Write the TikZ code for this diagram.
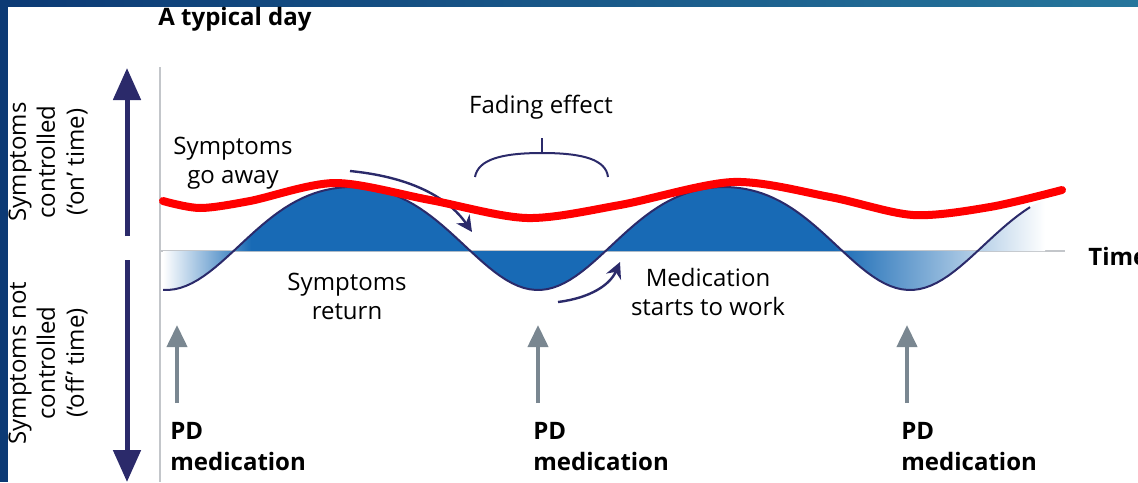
\documentclass[tikz,border=0pt]{standalone}
\usepackage{fontspec}
\setmainfont{Open Sans}
\usetikzlibrary{arrows.meta}
\definecolor{framenavy}{RGB}{12,58,117}
\definecolor{frameteal}{RGB}{38,118,156}
\definecolor{arrownavy}{RGB}{43,42,106}
\definecolor{waveblue}{RGB}{24,106,181}
\definecolor{dosegray}{RGB}{122,135,145}
\definecolor{axisgray}{RGB}{195,198,202}
% blue between the wave and the time line, faded out at both ends
\pgfdeclarehorizontalshading{wavefill}{100bp}{color(0bp)=(white); color(25bp)=(white);
  color(30bp)=(waveblue); color(63bp)=(waveblue); color(75bp)=(white); color(100bp)=(white)}
% one day cycle is 372 units long (360/372 = 0.9677), with narrower dips
\newcommand\wavey[1]{233.1-51.5*cos(0.9677*(#1-352))+5.4*cos(1.9355*(#1-352))}
\newcommand\pddose[3]
{
    \coordinate (#1tip) at (#2,325);
    \coordinate (#1base) at (#2,403);
    \draw[dosearrow] (#1base) -- (#1tip);
    \node (#1) at (#3,422) [anchor=north west,boldtxt] {PD\\medication};
}

\begin{document}
\begin{tikzpicture}[x=0.5pt,y=-0.5pt]
  \tikzstyle{txt}=[font=\fontsize{12}{14.5}\selectfont,align=center,inner sep=0pt]
  \tikzstyle{boldtxt}=[font=\fontsize{12}{15.5}\selectfont\bfseries,align=left,inner sep=0pt]
  \tikzstyle{levelarrow}=[arrownavy,line width=2.5pt,-{Triangle[width=13.5pt,length=16pt]}]
  \tikzstyle{dosearrow}=[dosegray,line width=2pt,-{Triangle[width=10pt,length=11pt]}]
  \tikzstyle{notearrow}=[arrownavy,line width=1.2pt,-{Stealth[width=8pt,length=8pt]}]
  \clip (0,0) rectangle (1138,482);
  % slide frame
  \fill[framenavy] (0,0) rectangle (8,482);
  \shade[left color=framenavy,right color=frameteal] (0,0) rectangle (1138,6);
  % axes
  \draw[axisgray,line width=1pt] (160,67) -- (160,482);
  \draw[axisgray,line width=1pt] (160,251) -- (1065,251);
  % the wave
  \shade[shading=wavefill] (163,251) -- plot[domain=163:1045,samples=150] (\x,{\wavey{\x}}) -- (1045,251) -- cycle;
  \draw[arrownavy,line width=1pt] plot[domain=163:1030,samples=150] (\x,{\wavey{\x}});
  % side labels
  \node (ontxt) at (48,162) [txt,rotate=90] {Symptoms\\controlled\\(‘on’ time)};
  \node (offtxt) at (48,363) [txt,rotate=90] {Symptoms not\\controlled\\(‘off’ time)};
  \coordinate (onbase) at (127,236);
  \coordinate (ontip) at (127,68);
  \coordinate (offbase) at (127,260);
  \coordinate (offtip) at (127,482);
  \draw[levelarrow] (onbase) -- (ontip);
  \draw[levelarrow] (offbase) -- (offtip);
  % titles
  \node (title) at (158,19) [anchor=west,boldtxt] {A typical day};
  \node (time) at (1088,256) [anchor=west,boldtxt] {Time};
  % notes along the wave
  \node (away) at (233,163) [txt] {Symptoms\\go away};
  \node (back) at (347,296) [txt] {Symptoms\\return};
  \node (works) at (708,292) [txt] {Medication\\starts to work};
  \node (fade) at (541,107) [txt] {Fading effect};
  \coordinate (awaystart) at (350,171);
  \coordinate (awayend) at (472,232);
  \draw[notearrow] (awaystart) .. controls (420,178) and (452,203) .. (awayend);
  \coordinate (workstart) at (558,302);
  \coordinate (workend) at (620,262);
  \draw[notearrow] (workstart) .. controls (590,298) and (610,285) .. (workend);
  % brace under the fading effect
  \coordinate (fadetop) at (542,138);
  \coordinate (fademid) at (542,153);
  \draw[arrownavy,line width=1pt] (475,177) .. controls (478,160) and (500,153) .. (fademid)
    .. controls (584,153) and (606,160) .. (608,177);
  \draw[arrownavy,line width=1pt] (fademid) -- (fadetop);
  % doses
  \pddose{pdone}{177}{170}
  \pddose{pdtwo}{538}{533}
  \pddose{pdthree}{907}{901}
  % red line over it all
  \draw[red,line width=4pt,line cap=round] plot[smooth] coordinates {(163,201) (200,208) (250,201)
    (335,183) (430,200) (527,218) (620,205) (733,182) (830,197) (913,215) (990,207) (1062,190)};
\end{tikzpicture}
\end{document}
